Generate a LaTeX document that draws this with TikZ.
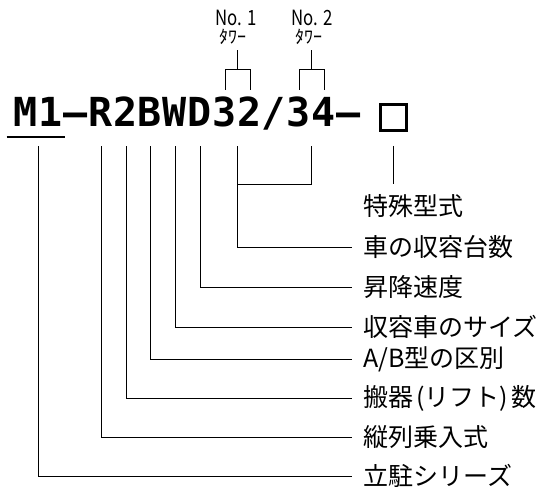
\documentclass[tikz,border=0pt]{standalone}
\usepackage{fontspec}
\usepackage{graphicx}
\usetikzlibrary{calc}
\newfontfamily\jpfont{Noto Sans CJK JP}
\newfontfamily\codefont{DejaVu Sans Mono}
\newcommand{\narrow}[1]{\scalebox{0.8}[1]{#1}}

\begin{document}
\begin{tikzpicture}[x=1pt, y=-1pt, line width=0.8pt,
  ch/.style={font=\codefont\bfseries\fontsize{40}{40}\selectfont, inner sep=0pt, anchor=base, text height=29pt, text depth=0pt},
  lab/.style={font=\jpfont\fontsize{25}{25}\selectfont, anchor=west, inner sep=0pt},
  no/.style={font=\jpfont\fontsize{21}{21}\selectfont, inner sep=0pt},
  tw/.style={font=\jpfont\fontsize{18}{18}\selectfont, inner sep=0pt}]
         \useasboundingbox (0, 0) rectangle (545, 489);
         \node [ch] (M) at (26, 127) {M};
         \node [ch] (One) at (51, 127) {1};
         \node [ch] (H1) at (76, 127) {–};
         \node [ch] (R) at (101, 127) {R};
         \node [ch] (Two) at (126, 127) {2};
         \node [ch] (B) at (150, 127) {B};
         \node [ch] (W) at (175, 127) {W};
         \node [ch] (D) at (200, 127) {D};
         \node [ch] (T1) at (225, 127) {3};
         \node [ch] (T2) at (250, 127) {2};
         \node [ch] (S) at (274, 127) {/};
         \node [ch] (T3) at (299, 127) {3};
         \node [ch] (F) at (324, 127) {4};
         \node [ch] (H2) at (349, 127) {–};
         \node [draw, line width=2.6pt, minimum size=26pt, inner sep=0pt] (BX) at (393.5, 117.5) {};
         \node [no] (N1) at (236, 17.5) {\narrow{No. 1}};
         \node [tw] (K1) at (233, 37) {ﾀﾜｰ};
         \node [no] (N2) at (312, 17.5) {\narrow{No. 2}};
         \node [tw] (K2) at (309, 37) {ﾀﾜｰ};
         \node [lab] (SP) at (363, 206) {特殊型式};
         \node [lab] (CN) at (363, 247) {車の収容台数};
         \node [lab] (SD) at (363, 287) {昇降速度};
         \node [lab] (SZ) at (363, 327) {収容車のサイズ};
         \node [lab] (AB) at (363, 359) {A/B型の区別};
         \node [lab] (LF) at (363, 398) {搬器\hspace{3pt}(リフト)\hspace{3pt}数};
         \node [lab] (TD) at (363, 437) {縦列乗入式};
         \node [lab] (SR) at (363, 476) {立駐シリーズ};
         \draw [line width=1.3pt] ([shift={(-7, 10)}]M.base west) -- ([shift={(2, 10)}]One.base east);
         \draw ([yshift=8pt]T1.north) -- ++(0, -20) -| ([yshift=8pt]T2.north);
         \draw ($(T1.north)!0.5!(T2.north)+(0, -28)$) -- ($(T1.north)!0.5!(T2.north)+(0, -48)$);
         \draw ([yshift=8pt]T3.north) -- ++(0, -20) -| ([yshift=8pt]F.north);
         \draw ($(T3.north)!0.5!(F.north)+(0, -28)$) -- ($(T3.north)!0.5!(F.north)+(0, -48)$);
         \draw ([yshift=-14pt]BX.south) -- ++(0, 38);
         \draw ($(T3.south)!0.5!(F.south)+(0, 19)$) |- ($(T1.south)!0.5!(T2.south)+(0, 57)$);
         \draw [shorten >=11pt] ($(T1.south)!0.5!(T2.south)+(0, 19)$) |- (CN.west);
         \draw [shorten >=11pt] ([yshift=-19pt]D.south) |- (SD.west);
         \draw [shorten >=11pt] ([yshift=-19pt]W.south) |- (SZ.west);
         \draw [shorten >=11pt] ([yshift=-19pt]B.south) |- (AB.west);
         \draw [shorten >=11pt] ([yshift=-19pt]Two.south) |- (LF.west);
         \draw [shorten >=11pt] ([yshift=-19pt]R.south) |- (TD.west);
         \draw [shorten >=11pt] ($(M.south)!0.5!(One.south)+(0, 19)$) |- (SR.west);
\end{tikzpicture}
\end{document}
